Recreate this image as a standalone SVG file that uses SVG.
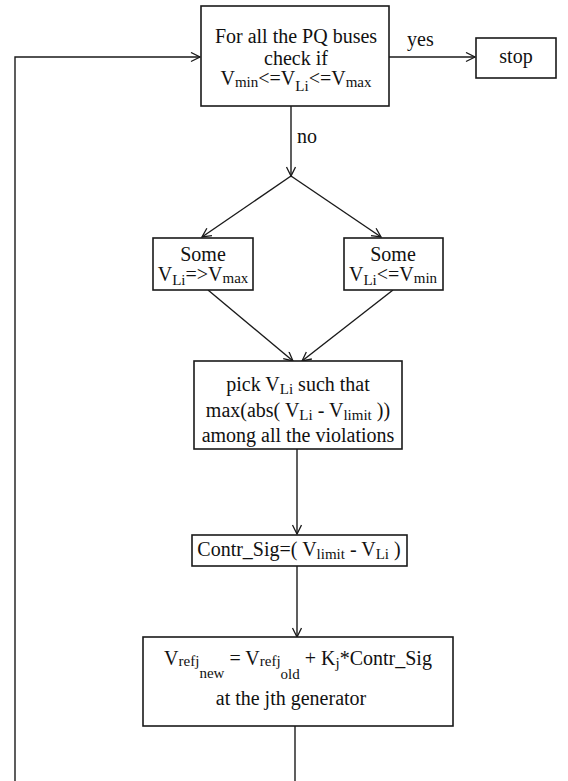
<svg xmlns="http://www.w3.org/2000/svg" width="568" height="781" viewBox="0 0 568 781">
<style>
.box{fill:#fff;stroke:#1a1a1a;stroke-width:1.6}
.ln{fill:none;stroke:#1a1a1a;stroke-width:1.4}
text{font-family:"Liberation Serif","Times New Roman",serif;font-size:20px;fill:#111}
.s{font-size:15px}
</style>
<defs>
<marker id="ah" markerUnits="userSpaceOnUse" markerWidth="12" markerHeight="12" refX="10" refY="5" orient="auto">
<path d="M1,0.5 L10,5 L1,9.5" fill="none" stroke="#1a1a1a" stroke-width="1.3"/>
</marker>
</defs>
<rect width="568" height="781" fill="#fff"/>
<g id="connectors">
<polyline class="ln" points="15,781 15,57 200,57" marker-end="url(#ah)"/>
<line class="ln" x1="389" y1="57" x2="475" y2="57" marker-end="url(#ah)"/>
<line class="ln" x1="291" y1="106" x2="291" y2="176" marker-end="url(#ah)"/>
<line class="ln" x1="291" y1="176" x2="202" y2="237" marker-end="url(#ah)"/>
<line class="ln" x1="291" y1="176" x2="381" y2="237" marker-end="url(#ah)"/>
<line class="ln" x1="208" y1="290" x2="293" y2="361" marker-end="url(#ah)"/>
<line class="ln" x1="393" y1="290" x2="302" y2="361" marker-end="url(#ah)"/>
<line class="ln" x1="297" y1="449" x2="297" y2="534" marker-end="url(#ah)"/>
<line class="ln" x1="297" y1="566" x2="297" y2="637" marker-end="url(#ah)"/>
<line class="ln" x1="295" y1="726" x2="295" y2="781"/>
<text x="407" y="46">yes</text>
<text x="297" y="143">no</text>
</g>
<g id="check">
<rect class="box" x="201" y="6" width="188" height="100"/>
<text x="296" y="43" text-anchor="middle">For all the PQ buses</text>
<text x="296" y="65" text-anchor="middle">check if</text>
<text x="296" y="85" text-anchor="middle">V<tspan class="s" dy="2">min</tspan><tspan dy="-2">&lt;=V</tspan><tspan class="s" dy="6">Li</tspan><tspan dy="-6">&lt;=V</tspan><tspan class="s" dy="2">max</tspan></text>
</g>
<g id="stop">
<rect class="box" x="476" y="38" width="80" height="40"/>
<text x="516" y="63" text-anchor="middle">stop</text>
</g>
<g id="vmax">
<rect class="box" x="153" y="238" width="100" height="52"/>
<text x="203" y="261" text-anchor="middle">Some</text>
<text x="203" y="281" text-anchor="middle">V<tspan class="s" dy="4">Li</tspan><tspan dy="-4">=&gt;V</tspan><tspan class="s" dy="2">max</tspan></text>
</g>
<g id="vmin">
<rect class="box" x="344" y="238" width="99" height="52"/>
<text x="393" y="261" text-anchor="middle">Some</text>
<text x="393" y="281" text-anchor="middle">V<tspan class="s" dy="4">Li</tspan><tspan dy="-4">&lt;=V</tspan><tspan class="s" dy="2">min</tspan></text>
</g>
<g id="pick">
<rect class="box" x="194" y="361" width="208" height="88"/>
<text x="298" y="391" text-anchor="middle">pick V<tspan class="s" dy="3">Li</tspan><tspan dy="-3"> such that</tspan></text>
<text x="298" y="417" text-anchor="middle">max(abs( V<tspan class="s" dy="3">Li</tspan><tspan dy="-3"> - V</tspan><tspan class="s" dy="3">limit</tspan><tspan dy="-3"> ))</tspan></text>
<text x="298" y="442" text-anchor="middle">among all the violations</text>
</g>
<g id="contr">
<rect class="box" x="192" y="535" width="215" height="31"/>
<text x="299" y="556" text-anchor="middle">Contr_Sig=( V<tspan class="s" dy="3">limit</tspan><tspan dy="-3"> - V</tspan><tspan class="s" dy="3">Li</tspan><tspan dy="-3"> )</tspan></text>
</g>
<g id="vref">
<rect class="box" x="143" y="637" width="310" height="89"/>
<text x="298" y="665" text-anchor="middle">V<tspan class="s" dy="1">refj</tspan><tspan class="s" dy="12">new</tspan><tspan dy="-13"> = V</tspan><tspan class="s" dy="1">refj</tspan><tspan class="s" dy="13">old</tspan><tspan dy="-14"> + K</tspan><tspan class="s" dy="3">j</tspan><tspan dy="-3">*Contr_Sig</tspan></text>
<text x="291" y="705" text-anchor="middle">at the jth generator</text>
</g>
</svg>
